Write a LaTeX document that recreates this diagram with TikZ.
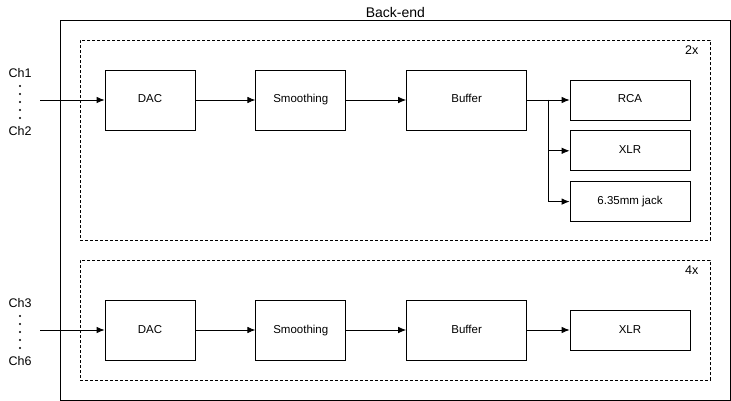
\documentclass[tikz,border=0pt]{standalone}
\usepackage{fontspec}
\setmainfont{Liberation Sans}
\usetikzlibrary{arrows.meta,positioning,calc}

\begin{document}
\begin{tikzpicture}[x=1pt,y=-1pt,node distance=60pt,line width=0.8pt]
\tikzstyle{block} = [rectangle, draw, minimum width=90pt, minimum height=60pt, font=\fontsize{11.5}{13}\selectfont, inner sep=0pt, text height=8.5pt, text depth=2.5pt]
\tikzstyle{outblock} = [block, minimum width=120pt, minimum height=40pt]
\tikzstyle{group} = [rectangle, draw, dash pattern=on 3pt off 2pt, minimum width=630pt, anchor=north west, inner sep=0pt]
\tikzstyle{chan} = [font=\fontsize{12.5}{14}\selectfont, inner sep=0pt]
\tikzstyle{dots} = [line width=2.2pt, line cap=round, dash pattern=on 0pt off 8pt, shorten <=13pt, shorten >=13pt]
\tikzstyle{arrow} = [draw, -{Latex[length=8pt,width=6.5pt]}]

\useasboundingbox (0,0) rectangle (731,401);

% Back-end frame
\node [draw, rectangle, minimum width=670pt, minimum height=380pt, anchor=north west, inner sep=0pt] (backend) at (60,20) {};
\node [font=\fontsize{14}{16}\selectfont, anchor=south, inner sep=2pt] at (backend.north) {Back-end};

% Groups
\node [group, minimum height=200pt] (grp1) at (80,40) {};
\node [anchor=north east, font=\fontsize{12.5}{14}\selectfont, inner sep=0pt] at ($(grp1.north east)+(-12,5)$) {2x};
\node [group, minimum height=120pt] (grp2) at (80,260) {};
\node [anchor=north east, font=\fontsize{12.5}{14}\selectfont, inner sep=0pt] at ($(grp2.north east)+(-12,5)$) {4x};

% First chain
\node [block] (dac1) at (150,100) {DAC};
\node [block, right=of dac1] (smooth1) {Smoothing};
\node [block, right=of smooth1, minimum width=120pt] (buf1) {Buffer};
\node [outblock] (rca) at (630,100) {RCA};
\node [outblock, below=10pt of rca] (xlr1) {XLR};
\node [outblock, below=10pt of xlr1] (jack) {6.35mm jack};

% Second chain
\node [block] (dac2) at (150,330) {DAC};
\node [block, right=of dac2] (smooth2) {Smoothing};
\node [block, right=of smooth2, minimum width=120pt] (buf2) {Buffer};
\node [outblock] (xlr2) at (630,330) {XLR};

% Channel labels
\node [chan] (ch1) at (20,73) {Ch1};
\node [chan] (ch2) at (20,131) {Ch2};
\draw [dots] (ch1.center) -- (ch2.center);
\node [chan] (ch3) at (20,303) {Ch3};
\node [chan] (ch6) at (20,361) {Ch6};
\draw [dots] (ch3.center) -- (ch6.center);

\coordinate (in1) at (40,100);
\coordinate (in2) at (40,330);
\coordinate (split) at (548,100);

% Connections
\draw [arrow] (in1) -- (dac1);
\draw [arrow] (dac1) -- (smooth1);
\draw [arrow] (smooth1) -- (buf1);
\draw [arrow] (buf1) -- (rca);
\draw [arrow] (split) |- (xlr1.west);
\draw [arrow] (split) |- (jack.west);

\draw [arrow] (in2) -- (dac2);
\draw [arrow] (dac2) -- (smooth2);
\draw [arrow] (smooth2) -- (buf2);
\draw [arrow] (buf2) -- (xlr2);

\end{tikzpicture}
\end{document}
